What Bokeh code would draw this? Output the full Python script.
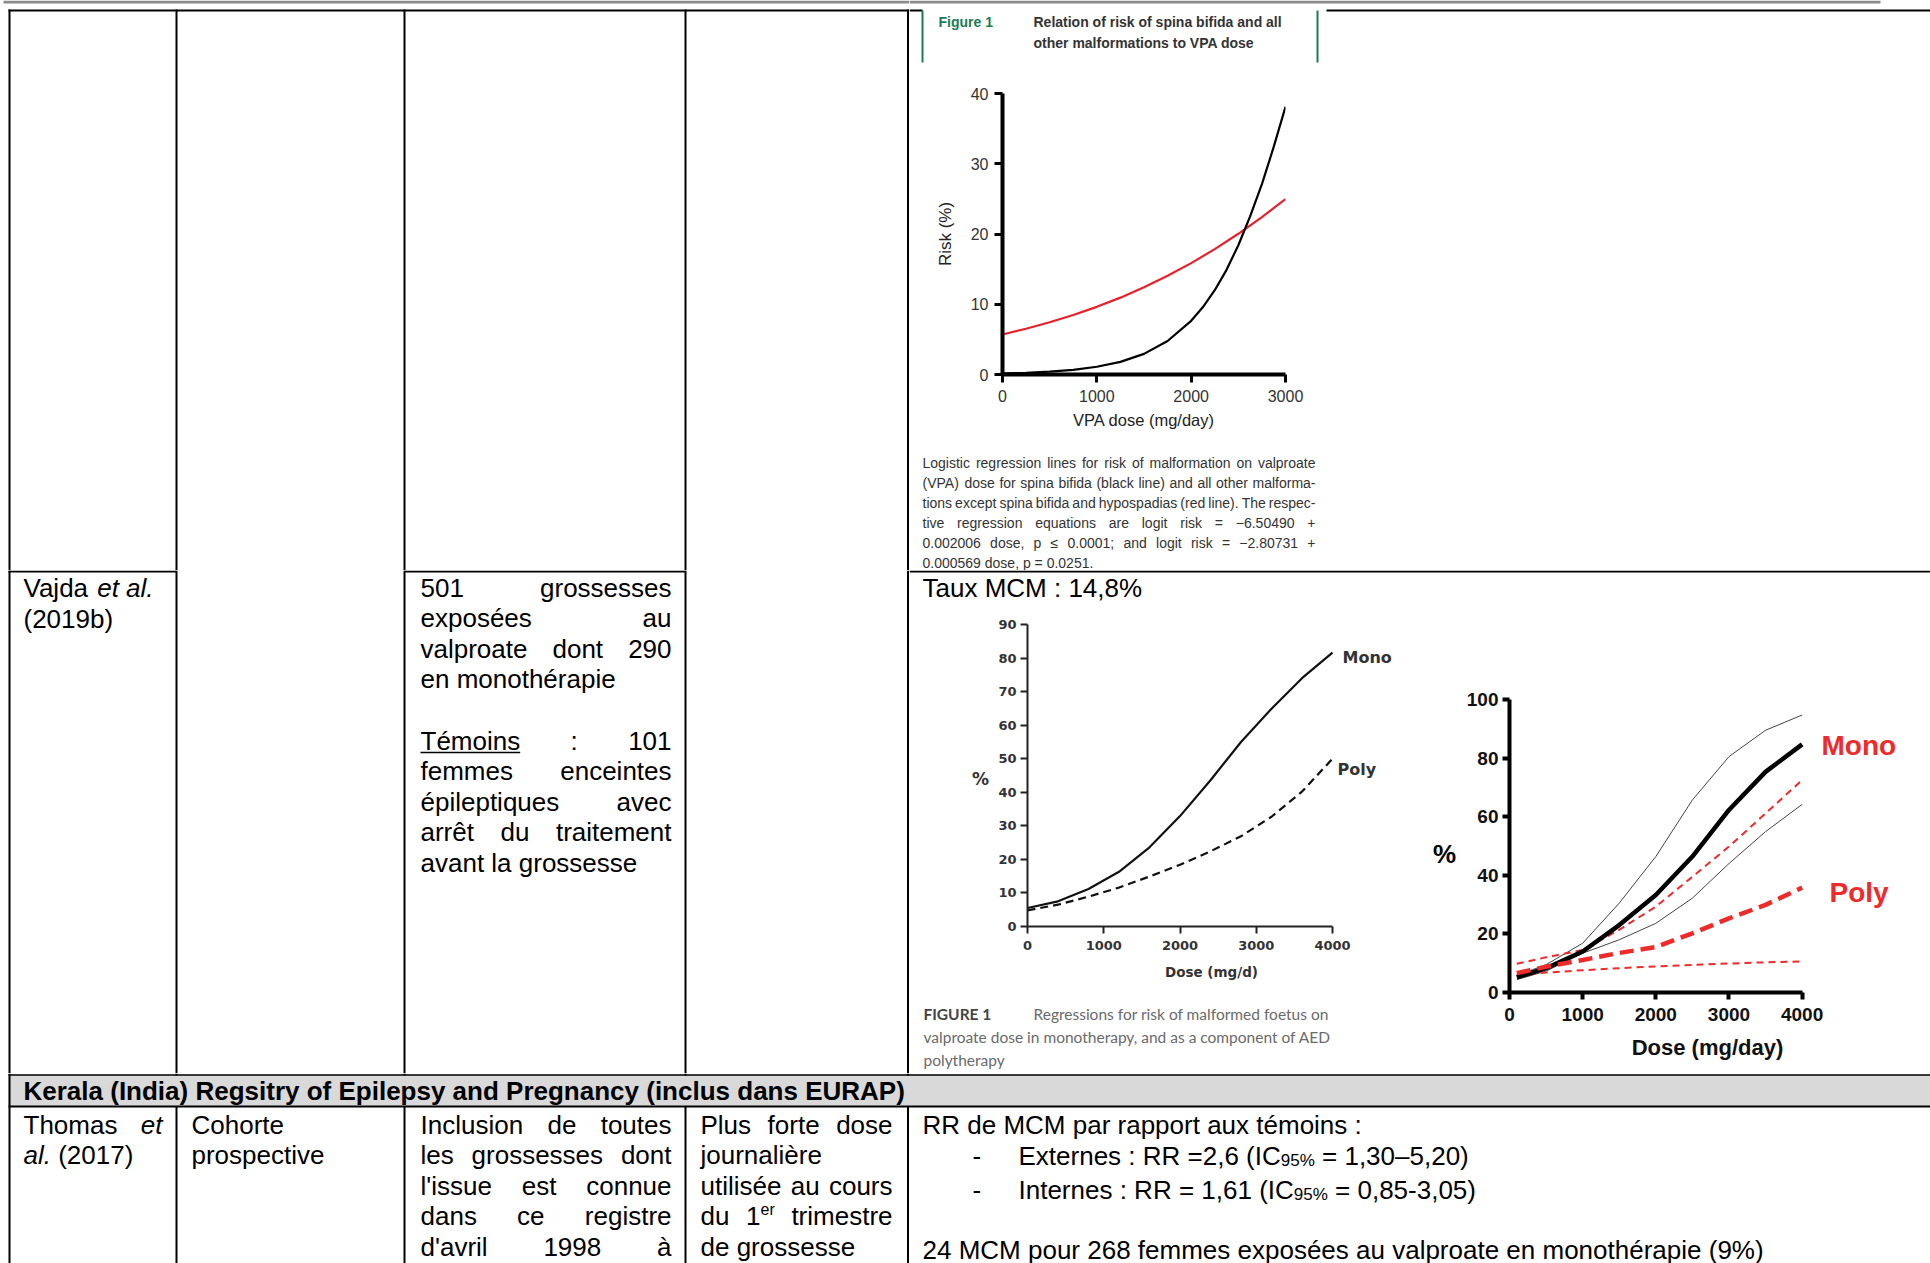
from bokeh.plotting import figure
from bokeh.layouts import row, column
from bokeh.models import Range1d, FixedTicker
from bokeh.core.properties import value
from bokeh.embed import file_html
from bokeh.resources import INLINE

# ---------------- data ----------------
# Figure 1 (row 1): risk (%) vs VPA dose
fig1_spina_dose = [0, 250, 500, 750, 1000, 1250, 1500, 1750, 2000, 2125, 2250, 2375, 2500, 2625, 2750, 2875, 3000]
fig1_spina_risk = [0.15, 0.25, 0.41, 0.67, 1.10, 1.80, 2.94, 4.77, 7.64, 9.6, 12.0, 14.9, 18.4, 22.5, 27.1, 32.4, 38.1]
fig1_other_dose = [0, 250, 500, 750, 1000, 1250, 1500, 1750, 2000, 2250, 2500, 2750, 3000]
fig1_other_risk = [5.70, 6.51, 7.43, 8.47, 9.63, 10.94, 12.41, 14.05, 15.85, 17.85, 20.03, 22.40, 24.97]
fig1_x_ticks = [0, 1000, 2000, 3000]
fig1_y_ticks = [0, 10, 20, 30, 40]

# Vajda 2019b figure (left): % vs dose
vajda_dose = [0, 400, 800, 1200, 1600, 2000, 2400, 2800, 3200, 3600, 4000]
vajda_mono = [5.5, 7.5, 11.2, 16.3, 23.6, 32.9, 43.6, 55.0, 64.9, 74.0, 81.6]
vajda_poly = [4.8, 6.5, 8.9, 11.6, 14.9, 18.4, 22.4, 26.9, 32.7, 40.2, 50.0]
vajda_x_ticks = [0, 1000, 2000, 3000, 4000]
vajda_y_ticks = [0, 10, 20, 30, 40, 50, 60, 70, 80, 90]

# Vajda figure with confidence bands (right)
ci_dose = [100, 500, 1000, 1500, 2000, 2500, 3000, 3500, 4000]
ci_mono = [5.2, 8.3, 14.0, 23.0, 33.3, 46.4, 62.3, 75.3, 84.7]
ci_mono_hi = [5.8, 9.5, 16.8, 30.5, 46.4, 65.7, 80.5, 89.5, 94.7]
ci_mono_lo = [4.4, 7.3, 13.4, 18.0, 23.6, 32.2, 44.0, 54.9, 64.2]
ci_poly = [6.6, 8.8, 11.1, 13.5, 15.5, 20.2, 25.3, 29.9, 35.8]
ci_poly_hi = [9.8, 12.0, 14.5, 21.4, 29.3, 39.5, 49.8, 61.1, 72.5]
ci_poly_lo = [6.0, 6.8, 7.6, 8.3, 8.9, 9.4, 9.9, 10.3, 10.6]
ci_x_ticks = [0, 1000, 2000, 3000, 4000]
ci_y_ticks = [0, 20, 40, 60, 80, 100]

FONT = "Liberation Sans"
RED = "#e8202a"
GREEN = "#1c7c54"
COLS = [9, 176, 404, 685, 907.5]

# Arial / Liberation Sans advance widths (1/1000 em)
_W = {' ': 278, '!': 278, "'": 191, '(': 333, ')': 333, ',': 278, '-': 333, '.': 278,
      '/': 278, ':': 278, ';': 278, '=': 584, '%': 889, '+': 584, '\u2013': 556,
      '\u2212': 584, '\u2264': 549}
for _c in '0123456789':
    _W[_c] = 556
_W.update(dict(A=667, B=667, C=722, D=722, E=667, F=611, G=778, H=722, I=278, J=500,
               K=667, L=556, M=833, N=722, O=778, P=667, Q=778, R=722, S=667, T=611,
               U=722, V=667, W=944, X=667, Y=667, Z=611))
_W.update(dict(a=556, b=556, c=500, d=556, e=556, f=278, g=556, h=556, i=222, j=222,
               k=500, l=222, m=833, n=556, o=556, p=556, q=556, r=333, s=500, t=278,
               u=556, v=500, w=722, x=500, y=500, z=500))
_W.update({'\u00e9': 556, '\u00e8': 556, '\u00ea': 556, '\u00e0': 556, '\u00e2': 556,
           '\u00f4': 556, '\u00ee': 278, '\u00e7': 500})


def tw(s, size):
    return sum(_W.get(c, 556) for c in s) * size / 1000.0


def pix(w, h):
    p = figure(width=w, height=h, x_range=Range1d(0, w), y_range=Range1d(h, 0),
               min_border=0, toolbar_location=None, output_backend="svg",
               x_axis_type=None, y_axis_type=None, title=None)
    p.outline_line_color = None
    p.frame_align = False
    return p


def T(pc, x, y, s, size=26, style="normal", color="black", align="left",
      base="middle", font=FONT):
    p, ox, oy = pc
    p.text(x=[x - ox], y=[y - oy], text=[s], text_font=value(font),
           text_font_size=f"{size}px", text_font_style=style, text_color=color,
           text_align=align, text_baseline=base)


def S(pc, x0, y0, x1, y1, w=2, color="black"):
    p, ox, oy = pc
    p.segment(x0=[x0 - ox], y0=[y0 - oy], x1=[x1 - ox], y1=[y1 - oy],
              line_width=w, line_color=color)


def B(pc, x0, y0, x1, y1, color):
    p, ox, oy = pc
    p.quad(left=[x0 - ox], right=[x1 - ox], top=[y0 - oy], bottom=[y1 - oy],
           fill_color=color, line_color=None)


def LINE(pc, x0, x1, y, words, size=26, justify=True, font=FONT, color="black"):
    items = []
    for wd in words:
        if isinstance(wd, str):
            items.append([(wd, "normal", size, 0)])
        else:
            items.append(wd)
    widths = [sum(tw(t, s) for (t, st, s, dy) in it) for it in items]
    if justify and len(items) > 1:
        gap = (x1 - x0 - sum(widths)) / (len(items) - 1)
    else:
        gap = tw(" ", size)
    x = x0
    spans = []
    for it in items:
        start = x
        for (t, st, s, dy) in it:
            T(pc, x, y + dy, t, s, st, color, font=font)
            x += tw(t, s)
        spans.append((start, x))
        x += gap
    return spans


def chart(w, h, bl, br, bt, bb, xr, yr):
    p = figure(width=w, height=h, min_border_left=bl, min_border_right=br,
               min_border_top=bt, min_border_bottom=bb, x_range=Range1d(*xr),
               y_range=Range1d(*yr), toolbar_location=None, output_backend="svg",
               title=None)
    p.grid.grid_line_color = None
    p.outline_line_color = None
    p.frame_align = False
    return p


def style_axis(ax, ticks, lw, tlw, tout, size, font, fstyle, color, standoff, bounds=None):
    ax.ticker = FixedTicker(ticks=ticks)
    ax.axis_line_width = lw
    ax.axis_line_color = "black" if lw > 2.5 else "#222222"
    ax.major_tick_line_width = tlw
    ax.major_tick_line_color = ax.axis_line_color
    ax.major_tick_out = tout
    ax.major_tick_in = 0
    ax.minor_tick_line_color = None
    ax.major_label_text_font = font
    ax.major_label_text_font_size = size
    ax.major_label_text_font_style = fstyle
    ax.major_label_text_color = color
    ax.major_label_standoff = standoff
    if bounds is not None:
        ax.bounds = bounds


def axis_label(ax, lab, font, size, style, color, standoff):
    ax.axis_label = lab
    ax.axis_label_text_font = font
    ax.axis_label_text_font_size = size
    ax.axis_label_text_font_style = style
    ax.axis_label_text_color = color
    ax.axis_label_standoff = standoff


# ================= row 1 : left cells =================
lt = pix(909, 570)
pc = (lt, 0, 0)
B(pc, 3, 0, 909, 3, "#8c8c8c")
S(pc, 8, 10, 909, 10)
for cx in COLS:
    S(pc, cx, 9, cx, 570)

# ================= row 1 : Figure 1 header =================
h1 = pix(1021, 78)
pc = (h1, 909, 0)
B(pc, 909, 0, 1880, 3, "#8c8c8c")
S(pc, 909, 10, 922, 10)
S(pc, 1326, 10, 1930, 10)
S(pc, 922, 10, 922, 62, 2, GREEN)
S(pc, 1317, 10, 1317, 62, 2, GREEN)
T(pc, 938, 21, "Figure 1", 14, "bold", GREEN)
T(pc, 1033, 21, "Relation of risk of spina bifida and all", 14, "bold", "#333333")
T(pc, 1033, 42, "other malformations to VPA dose", 14, "bold", "#333333")

# ================= row 1 : Figure 1 chart =================
c1 = chart(1021, 370, 93, 645, 15, 74, (0, 3000), (0, 40))
c1.line(fig1_other_dose, fig1_other_risk, line_color=RED, line_width=2.2)
c1.line(fig1_spina_dose, fig1_spina_risk, line_color="black", line_width=2.2)
style_axis(c1.xaxis[0], fig1_x_ticks, 4, 3, 8, "16px", FONT, "normal", "#333333", 7)
style_axis(c1.yaxis[0], fig1_y_ticks, 4, 3, 8, "16px", FONT, "normal", "#333333", 6)
axis_label(c1.xaxis[0], "VPA dose (mg/day)", FONT, "16.5px", "normal", "#222222", 6)
axis_label(c1.yaxis[0], "Risk (%)", FONT, "17px", "normal", "#222222", 13)

# ================= row 1 : Figure 1 caption =================
k1 = pix(1021, 122)
pc = (k1, 909, 448)
cap1 = [
    ("Logistic regression lines for risk of malformation on valproate", True),
    ("(VPA) dose for spina bifida (black line) and all other malforma-", True),
    ("tions except spina bifida and hypospadias (red line). The respec-", True),
    ("tive regression equations are logit risk = \u22126.50490 +", True),
    ("0.002006 dose, p \u2264 0.0001; and logit risk = \u22122.80731 +", True),
    ("0.000569 dose, p = 0.0251.", False),
]
for i, (ln, j) in enumerate(cap1):
    LINE(pc, 922, 1315, 462 + 20 * i, ln.split(" "), 14, j, color="#333333")

# ================= row 2 : left cells =================
lm = pix(909, 503)
pc = (lm, 0, 570)
S(pc, 8, 571, 176, 571)
S(pc, 404, 571, 685, 571)
for cx in COLS:
    S(pc, cx, 570, cx, 1073)
LINE(pc, 23, 168, 587, ["Vajda", [("et", "italic", 26, 0)], [("al.", "italic", 26, 0)]], 26, False)
T(pc, 23, 618, "(2019b)")
col3 = [(["501", "grossesses"], True), (["expos\u00e9es", "au"], True),
        (["valproate", "dont", "290"], True), (["en", "monoth\u00e9rapie"], False), None,
        (["T\u00e9moins", ":", "101"], True), (["femmes", "enceintes"], True),
        (["\u00e9pileptiques", "avec"], True), (["arr\u00eat", "du", "traitement"], True),
        (["avant", "la", "grossesse"], False)]
for i, item in enumerate(col3):
    if item is None:
        continue
    words, j = item
    yc = 587 + 30.6 * i
    sp = LINE(pc, 420, 671, yc, words, 26, j)
    if words[0] == "T\u00e9moins":
        S(pc, sp[0][0], yc + 12, sp[0][1], yc + 12, 1.6)

# ================= row 2 : right cell =================
mt = pix(1021, 38)
pc = (mt, 909, 570)
S(pc, 909, 571, 1930, 571)
T(pc, 922, 587, "Taux MCM : 14,8%")

p2 = pix(86, 385)
T((p2, 909, 608), 980, 778, "%", 17, "bold", "#333333", "center", "middle", "DejaVu Sans")

c2 = chart(405, 385, 32, 5, 16, 67, (0, 4000 * 368 / 305), (0, 90))
c2.line(vajda_dose, vajda_mono, line_color="#111111", line_width=2.2)
c2.line(vajda_dose, vajda_poly, line_color="#111111", line_width=2.2, line_dash="8 5")
style_axis(c2.xaxis[0], vajda_x_ticks, 2, 2, 7, "13px", "DejaVu Sans", "bold", "#333333", 7, (0, 4000))
style_axis(c2.yaxis[0], vajda_y_ticks, 2, 2, 7, "13px", "DejaVu Sans", "bold", "#333333", 4)
axis_label(c2.xaxis[0], "Dose (mg/d)", "DejaVu Sans", "13.5px", "bold", "#333333", 11)
c2.text(x=[4131, 4066], y=[80.2, 46.8], text=["Mono", "Poly"], text_font=value("DejaVu Sans"),
        text_font_size="16px", text_font_style="bold", text_color="#333333",
        text_baseline="middle")

k2 = pix(491, 80)
pc = (k2, 909, 993)
T(pc, 923, 1013, "FIGURE 1", 15.5, "bold", "#444444", font="Lato")
T(pc, 1033, 1013, "Regressions for risk of malformed foetus on", 15.5, "normal", "#6a6a6a", font="Lato")
T(pc, 923, 1036, "valproate dose in monotherapy, and as a component of AED", 15.5, "normal", "#6a6a6a", font="Lato")
T(pc, 923, 1059, "polytherapy", 15.5, "normal", "#6a6a6a", font="Lato")

p3 = pix(58, 465)
T((p3, 1400, 608), 1444, 853, "%", 26, "bold", "black", "center", "middle")

c3 = chart(472, 465, 51, 25, 91, 81, (0, 4000 * 396 / 292.6), (0, 100))
c3.line(ci_dose, ci_mono_hi, line_color="#444444", line_width=1)
c3.line(ci_dose, ci_mono_lo, line_color="#444444", line_width=1)
c3.line(ci_dose, ci_poly_hi, line_color="#ee2a2a", line_width=2, line_dash="7 5")
c3.line(ci_dose, ci_poly_lo, line_color="#ee2a2a", line_width=2, line_dash="7 5")
c3.line(ci_dose, ci_mono, line_color="black", line_width=4.5)
c3.line(ci_dose, ci_poly, line_color="#ee2a2a", line_width=4.5, line_dash="14 7")
style_axis(c3.xaxis[0], ci_x_ticks, 4, 4, 7, "19px", FONT, "bold", "#111111", 8, (0, 4000))
style_axis(c3.yaxis[0], ci_y_ticks, 4, 4, 7, "19px", FONT, "bold", "#111111", 4)
axis_label(c3.xaxis[0], "Dose (mg/day)", FONT, "22px", "bold", "#111111", 11)
c3.text(x=[4265, 4375], y=[84.4, 34.0], text=["Mono", "Poly"], text_font=value(FONT),
        text_font_size="28px", text_font_style="bold", text_color="#ee2a2a",
        text_baseline="middle")

# ================= header + row 3 =================
bt = pix(1930, 190)
pc = (bt, 0, 1073)
B(pc, 8, 1074, 1930, 1106, "#d9d9d9")
S(pc, 8, 1074.5, 1930, 1074.5, 1.5)
S(pc, 8, 1106, 1930, 1106, 2)
S(pc, 9, 1073, 9, 1263)
for cx in COLS[1:]:
    S(pc, cx, 1073, cx, 1075)
    S(pc, cx, 1106, cx, 1263)
T(pc, 23, 1090, "Kerala (India) Regsitry of Epilepsy and Pregnancy (inclus dans EURAP)", 26, "bold")

b0 = 1124
LINE(pc, 23, 162, b0, ["Thomas", [("et", "italic", 26, 0)]], 26, True)
LINE(pc, 23, 162, b0 + 30.6, [[("al.", "italic", 26, 0)], "(2017)"], 26, False)
T(pc, 191, b0, "Cohorte")
T(pc, 191, b0 + 30.6, "prospective")
col3b = ["Inclusion de toutes", "les grossesses dont", "l'issue est connue",
         "dans ce registre", "d'avril 1998 \u00e0"]
for i, ln in enumerate(col3b):
    LINE(pc, 420, 671, b0 + 30.6 * i, ln.split(" "), 26, True)
col4b = [(["Plus", "forte", "dose"], True), (["journali\u00e8re"], False),
         (["utilis\u00e9e", "au", "cours"], True),
         (["du", [("1", "normal", 26, 0), ("er", "normal", 16, -7)], "trimestre"], True),
         (["de", "grossesse"], False)]
for i, (words, j) in enumerate(col4b):
    LINE(pc, 700, 892, b0 + 30.6 * i, words, 26, j)

T(pc, 922, b0, "RR de MCM par rapport aux t\u00e9moins :")
T(pc, 972, 1155, "-")
LINE(pc, 1018, 1900, 1155, ["Externes", ":", "RR", "=2,6",
                            [("(IC", "normal", 26, 0), ("95%", "normal", 17, 5)],
                            "=", "1,30\u20135,20)"], 26, False)
T(pc, 972, 1189, "-")
LINE(pc, 1018, 1900, 1189, ["Internes", ":", "RR", "=", "1,61",
                            [("(IC", "normal", 26, 0), ("95%", "normal", 17, 5)],
                            "=", "0,85-3,05)"], 26, False)
T(pc, 922, 1249, "24 MCM pour 268 femmes expos\u00e9es au valproate en monoth\u00e9rapie (9%)")

# ================= layout =================
layout = column(
    row(lt, column(h1, c1, k1)),
    row(lm, column(mt, row(column(row(p2, c2), k2), p3, c3))),
    bt,
)

open("out.html", "w").write(file_html(layout, INLINE))
